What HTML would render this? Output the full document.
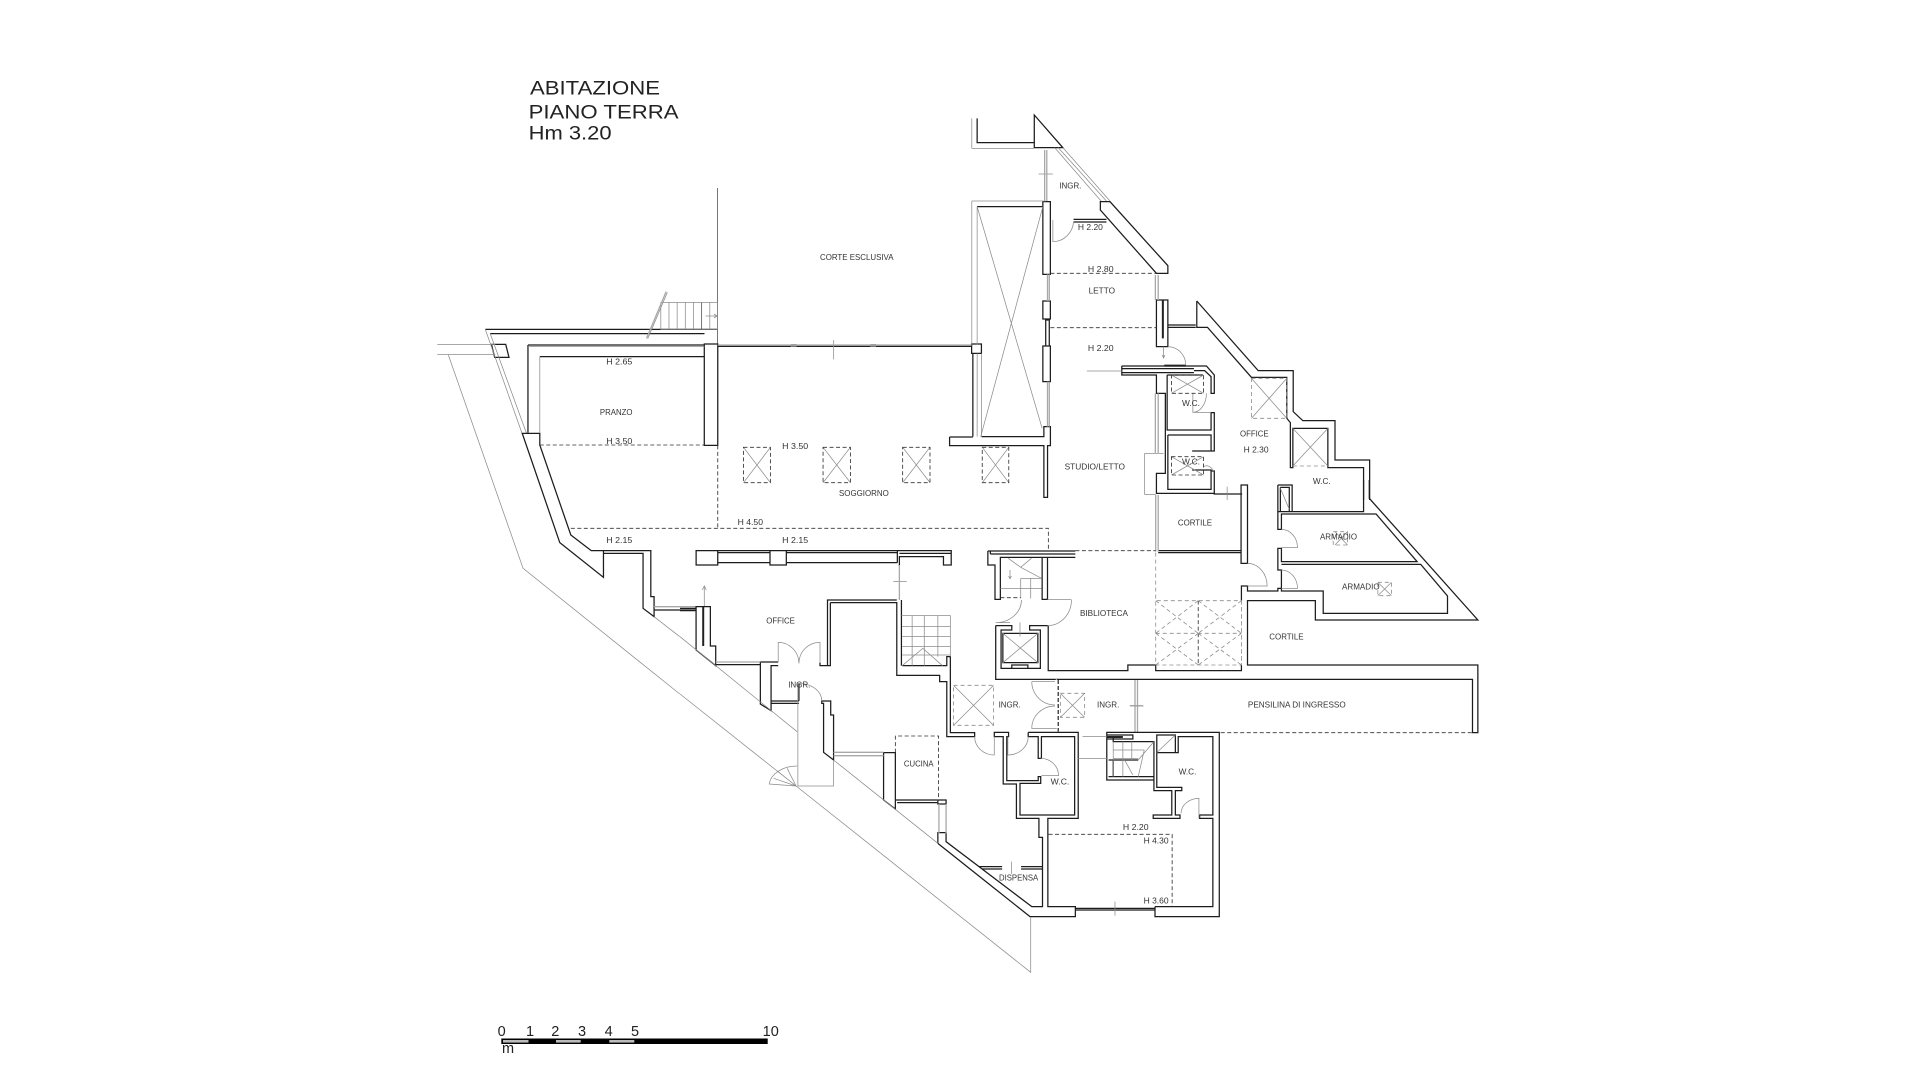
<!DOCTYPE html>
<html><head><meta charset="utf-8"><style>
html,body{margin:0;padding:0;background:#fff;width:1920px;height:1080px;overflow:hidden}
svg{display:block;filter:blur(.35px)}
path,rect{vector-effect:non-scaling-stroke;fill:none}
.w{stroke:#1c1c1c;stroke-width:1.25}
.h{stroke:#222;stroke-width:2}
.k{stroke:#555;stroke-width:.8}
.t{stroke:#8c8c8c;stroke-width:.75}
.g{stroke:#a8a8a8;stroke-width:1.3}
.d{stroke:#333;stroke-width:.85;stroke-dasharray:4 2.5}
.e{stroke:#8c8c8c;stroke-width:.8;stroke-dasharray:4 3}
text{font-family:"Liberation Sans",sans-serif;fill:#333;font-size:8.4px}
.ti{font-size:19px;fill:#222}
.sc{font-size:14.5px;fill:#222;text-anchor:middle}
</style></head><body>
<svg width="1920" height="1080" viewBox="0 0 1920 1080" xmlns="http://www.w3.org/2000/svg">
<g transform="translate(420,60) scale(.40816,.33333)">
<path class="w" d="M160 808H729M172 821H697M175 853H210L218 892H183Z"/>
<path class="k" d="M729 384V855M690 727V808"/>
<path class="t" d="M590 727H729V808H590ZM610 727V808M630 727V808M650 727V808M670 727V808M710 727V808M700 768H728M720 762L728 768 720 774M160 808L250 1120M172 821L261 1120M606 697L558 836"/>
<path class="g" d="M603 695L555 835"/>
</g>
<g transform="translate(430,340) scale(.40816,.33333)">
<path class="w" d="M240 15H672M240 15V278M269 50H672M672 12H705V316H672ZM226 280H269V315L345 585 395 632H425V712L318 608ZM705 19H1327M1327 12H1351V40H1327ZM1330 40V290M1273 291H1330M1351 290H1504V260H1520V317H1513V472H1504V317H1273V291M425 632H515M425 640H515M515 632H541V770H549V830L522 805V640H515M549 810H652M652 632H705V675H652ZM705 632H833M705 638H833M705 668H833M833 632H873V675H833ZM873 632H1145M873 638H1145M873 668H1145M1145 632V668M1145 632H1277V675H1258V650H1150V678M1150 640H1277"/>
<path class="t" d="M269 50V278M240 20H672M1351 40V290M989 0V58M18 13H160M18 43H160M45 45L228 685 612 1062M549 830L612 890M1135 725H1168M672 800V740M667 750L672 738 677 750M885 13h12v7h-12zM1080 13h12v7h-12zM768 322L834 428M834 322L768 428M963 322L1030 428M1030 322L963 428M1158 322L1225 428M1225 322L1158 428M1353 322L1418 428M1418 322L1353 428"/>
<path class="g" d="M705 15H1327M549 800H652M1150 675V780"/>
<path class="d" d="M269 315H672M705 316V565M345 565H1515V632M768 322H834V428H768ZM963 322H1030V428H963ZM1158 322H1225V428H1158ZM1353 322H1418V428H1353Z"/>
</g>
<g transform="translate(960,100) scale(.35714,.33333)">
<path class="w" d="M208 45L288 143H208ZM48 55V128H208M48 320H232M393 305H420L582 497V520H550L393 330ZM318 358H410M318 366H410M232 305H253V523H232ZM232 603H253V657H232ZM240 660H250V738H240ZM232 738H253V845H232ZM550 600H582V740H550ZM582 675H660M582 682H660M663 603L835 812H933V935L960 962H1050V1080H1147V1200M663 603V682H693L816 832H915V955L925 968V1103H932V985H1030V1103H1130V1200M453 798H690L712 825V880H703V830L685 812H655M453 798V825H550V880H575V990M453 806H655M453 818H655M580 825V990H703V938H712V1053H703M580 825H680M582 1005H703V1053H650M650 1110H703V1168H582V1005M703 1113H712V1180H550V1120H575V990"/>
<path class="h" d="M568 600V715M572 797H632"/>
<path class="t" d="M33 145V55M33 145H208M33 303H240M33 303V733M48 320V733M48 320L230 985M232 320L58 1010M48 760V1010M220 222H260M265 143L395 303M275 143L410 303M288 143L420 303M260 360V425A58 65 0 0 0 318 365M570 740V772M566 765L570 774 574 765M582 740A50 55 0 0 1 632 795M355 813H453M517 1060H570M517 1060V1183H548M652 880V937H703M652 937A38 57 0 0 0 690 880M682 1100A28 55 0 0 1 710 1113M816 835L915 955M915 835L816 955M932 985L1030 1098M1030 985L932 1098M592 825L682 880M682 825L592 880M592 1070L682 1125M682 1070L592 1125"/>
<path class="g" d="M237 150V303M243 150V303M245 523V603M250 523V603M245 845V980M250 845V980M547 525V600M555 525V600M547 880V1060M555 880V1060"/>
<path class="d" d="M253 520H550M253 683H550M592 825H682V880H592ZM592 1070H682V1125H592Z"/>
<path class="e" d="M816 835H915V955H816ZM932 1098H1030"/>
</g>
<g transform="translate(960,480) scale(.35714,.33333)">
<path class="w" d="M100 437V598H1435V758H1450V555H805V362H995V420H1450L1146 55V0M247 437V572H470V555H548V572H788V555M788 362V318H805V333H890V325H900V333H1017V400H1365V348L1290 253H900M900 333V270H890V205H900V245H1280L1165 102H900V148H890V95H1130V0M890 15H930V95M890 15V95M897 22H922V95M897 22V95M710 42H790M555 212H787M555 218H787M787 15H805V250H787ZM78 213H323M85 222H323M85 222V213M115 232H323M78 213V255H98V358H113V232H230V358H245V232M100 437H145V450H115V565H225V450H195V437H247M145 555H190V565H145ZM120 460H218V548H120Z"/>
<path class="t" d="M748 20V60M900 270A45 55 0 0 1 945 325H900M900 148A45 55 0 0 1 945 203H900M805 250A55 68 0 0 1 860 318H805M100 428A72 68 0 0 0 172 360M100 428H140M245 437A67 77 0 0 0 312 360M245 358H312M168 427V470M475 677H512M897 25L922 88M120 460L218 548M218 460L120 548M170 295V355M228 295H170M113 325H170M170 325H228M198 295V355M170 262L228 295M135 235L170 262 200 235M140 295V270M136 288L140 296 144 288M1050 155L1085 195M1085 155L1050 195M1170 307L1208 347M1208 307L1170 347"/>
<path class="g" d="M490 600V758M497 600V758M548 45V215M555 45V215"/>
<path class="d" d="M323 212H548M113 353H170M730 758H1435M667 362V555"/>
<path class="e" d="M548 218V555H788V362H548M548 460H788M548 362L667 460M667 362L548 460M548 460L667 555M667 460L548 555M667 362L788 460M788 362L667 460M667 460L788 555M788 460L667 555M788 362V555M1045 155H1085V195H1045ZM1170 307H1208V347H1170Z"/>
</g>
<g transform="translate(680,600) scale(.35714,.33333)">
<path class="w" d="M45 20V150L100 197V138H85V20ZM0 25H45M0 32H45M100 194H225M275 186H225V312L255 332V197H275M255 303H333M255 310H333M333 250V303M397 303H422V345H430V480L402 457V310H397ZM570 458H603V627L570 600ZM603 600H720M608 608H720M722 600H745V612H722ZM722 730V698H745V725L985 920H1015V712H1005V655H942V552H905V410H880V397H920V410H915V542H1003V530H1010M392 188V197H413V0H607M421 8V197H413M421 8H607V226H727V245H747V410H825V398H757V170H747V197H622M620 0V197M975 397H1115V655H1030V920H1107V950H980L722 730M975 397V410H1003V475H1012V410H1105V645H952V550H1010V528M1107 925H1330M1107 930H1330M1330 920V950H1510V397H1195V540H1327V425H1213V410M1330 920H1492V655H1455V645H1492V410H1395V458H1335V405H1387V458M1327 425V572H1377V645H1325V655H1400V645H1387V572H1405V562H1335V458M1195 405H1268V417H1195ZM1200 480H1283M1213 480V530M1200 530H1327M837 800H902M845 807H902M955 800H1015M955 807H1015"/>
<path class="h" d="M65 20V138M1195 411H1240"/>
<path class="t" d="M620 47H757V170M650 47V197M684 47V197M722 47V170M622 80H757M622 110H757M622 140H757M622 165H757M622 197L680 145 735 197M275 186V127A58 63 0 0 1 333 190M392 188V127A58 63 0 0 0 333 190M333 250A64 53 0 0 1 397 303M825 410A55 55 0 0 0 880 465V410M918 410V465A57 55 0 0 0 975 410M1010 475A50 52 0 0 1 1060 527H1012M1403 640A50 45 0 0 1 1453 595V655M985 245H1050M985 245A65 70 0 0 0 1050 315M1050 318A65 67 0 0 0 985 385H1055M330 250V558H430V480M0 110L328 395M0 282L325 558 982 1117V952M430 480L722 730M325 558L250 552A78 60 0 0 1 328 498M325 558L275 515M325 558L300 505M325 558L262 535M766 256L878 376M878 256L766 376M1065 280L1133 352M1133 280L1065 352M1218 905V947M928 785V822M1260 318H1298M1335 458L1387 405M1213 425V530M1240 425V530M1265 425V480M1213 450H1300M1213 475H1283M1300 450L1283 530M1327 425L1283 480M1245 480L1268 525M1115 475H1195M1127 410H1195"/>
<path class="g" d="M725 612V700M745 612V700M430 457H570M430 467H570M100 186H225M1054 237V240"/>
<path class="d" d="M603 458V408H724V600M1032 703H1378V920"/>
<path class="h" d="M1059 240V395" style="stroke-dasharray:4 2;stroke-width:1.2"/>
<path class="e" d="M766 256H878V376H766ZM1065 280H1133V352H1065Z"/>
</g>

<text class="ti" x="530" y="94.7" textLength="130" lengthAdjust="spacingAndGlyphs">ABITAZIONE</text>
<text class="ti" x="528.6" y="118.3" textLength="150" lengthAdjust="spacingAndGlyphs">PIANO TERRA</text>
<text class="ti" x="528.6" y="139.3" textLength="83" lengthAdjust="spacingAndGlyphs">Hm 3.20</text>

<text x="820" y="260" textLength="73.5" lengthAdjust="spacingAndGlyphs">CORTE ESCLUSIVA</text>
<text x="606.3" y="364.3" textLength="26" lengthAdjust="spacingAndGlyphs">H 2.65</text>
<text x="599.9" y="415" textLength="32.6" lengthAdjust="spacingAndGlyphs">PRANZO</text>
<text x="606.3" y="444" textLength="26" lengthAdjust="spacingAndGlyphs">H 3.50</text>
<text x="782.2" y="449" textLength="26" lengthAdjust="spacingAndGlyphs">H 3.50</text>
<text x="839" y="496" textLength="49.8" lengthAdjust="spacingAndGlyphs">SOGGIORNO</text>
<text x="737.7" y="525" textLength="25.3" lengthAdjust="spacingAndGlyphs">H 4.50</text>
<text x="606.3" y="543" textLength="26" lengthAdjust="spacingAndGlyphs">H 2.15</text>
<text x="782.2" y="543" textLength="26" lengthAdjust="spacingAndGlyphs">H 2.15</text>
<text x="766.3" y="623.7" textLength="28.6" lengthAdjust="spacingAndGlyphs">OFFICE</text>

<text x="1059.3" y="188.7" textLength="22.1" lengthAdjust="spacingAndGlyphs">INGR.</text>
<text x="1077.9" y="230" textLength="25" lengthAdjust="spacingAndGlyphs">H 2.20</text>
<text x="1087.9" y="272" textLength="25.7" lengthAdjust="spacingAndGlyphs">H 2.80</text>
<text x="1088.6" y="293.3" textLength="26.4" lengthAdjust="spacingAndGlyphs">LETTO</text>
<text x="1087.9" y="351" textLength="25.7" lengthAdjust="spacingAndGlyphs">H 2.20</text>
<text x="1064.6" y="469.3" textLength="60.4" lengthAdjust="spacingAndGlyphs">STUDIO/LETTO</text>
<text x="1182" y="406" textLength="18" lengthAdjust="spacingAndGlyphs">W.C.</text>
<text x="1182" y="464.3" textLength="18" lengthAdjust="spacingAndGlyphs">W.C.</text>
<text x="1240" y="436.7" textLength="28.6" lengthAdjust="spacingAndGlyphs">OFFICE</text>
<text x="1243.6" y="452.7" textLength="25" lengthAdjust="spacingAndGlyphs">H 2.30</text>
<text x="1312.9" y="484" textLength="17.8" lengthAdjust="spacingAndGlyphs">W.C.</text>

<text x="1177.9" y="525.7" textLength="34.1" lengthAdjust="spacingAndGlyphs">CORTILE</text>
<text x="1320" y="539.3" textLength="37" lengthAdjust="spacingAndGlyphs">ARMADIO</text>
<text x="1342" y="589.3" textLength="37.6" lengthAdjust="spacingAndGlyphs">ARMADIO</text>
<text x="1080" y="616" textLength="47.9" lengthAdjust="spacingAndGlyphs">BIBLIOTECA</text>
<text x="1269.3" y="639.3" textLength="34.3" lengthAdjust="spacingAndGlyphs">CORTILE</text>
<text x="998.6" y="707.7" textLength="22.1" lengthAdjust="spacingAndGlyphs">INGR.</text>
<text x="1097" y="707.7" textLength="22.3" lengthAdjust="spacingAndGlyphs">INGR.</text>
<text x="1247.9" y="707.3" textLength="97.8" lengthAdjust="spacingAndGlyphs">PENSILINA DI INGRESSO</text>
<text x="1178.6" y="774.7" textLength="17.8" lengthAdjust="spacingAndGlyphs">W.C.</text>

<text x="788.2" y="687.3" textLength="22.2" lengthAdjust="spacingAndGlyphs">INGR.</text>
<text x="903.9" y="766.3" textLength="29.7" lengthAdjust="spacingAndGlyphs">CUCINA</text>
<text x="1050.7" y="784.7" textLength="18.6" lengthAdjust="spacingAndGlyphs">W.C.</text>
<text x="1122.9" y="830" textLength="25.7" lengthAdjust="spacingAndGlyphs">H 2.20</text>
<text x="1143.6" y="843.3" textLength="25" lengthAdjust="spacingAndGlyphs">H 4.30</text>
<text x="999" y="880.7" textLength="39.2" lengthAdjust="spacingAndGlyphs">DISPENSA</text>
<text x="1143.6" y="903.3" textLength="25" lengthAdjust="spacingAndGlyphs">H 3.60</text>

<rect x="501.3" y="1038.5" width="266.4" height="5.5" style="fill:#000"/>
<rect x="503" y="1040" width="25.5" height="2.6" style="fill:#bbb"/>
<rect x="556" y="1040" width="24.7" height="2.6" style="fill:#bbb"/>
<rect x="609.3" y="1040" width="25" height="2.6" style="fill:#bbb"/>
<text class="sc" x="501.7" y="1036">0</text>
<text class="sc" x="530" y="1036">1</text>
<text class="sc" x="555.3" y="1036">2</text>
<text class="sc" x="582" y="1036">3</text>
<text class="sc" x="608.7" y="1036">4</text>
<text class="sc" x="635" y="1036">5</text>
<text class="sc" x="770.7" y="1036">10</text>
<text class="sc" x="508" y="1053">m</text>
</svg>
</body></html>
